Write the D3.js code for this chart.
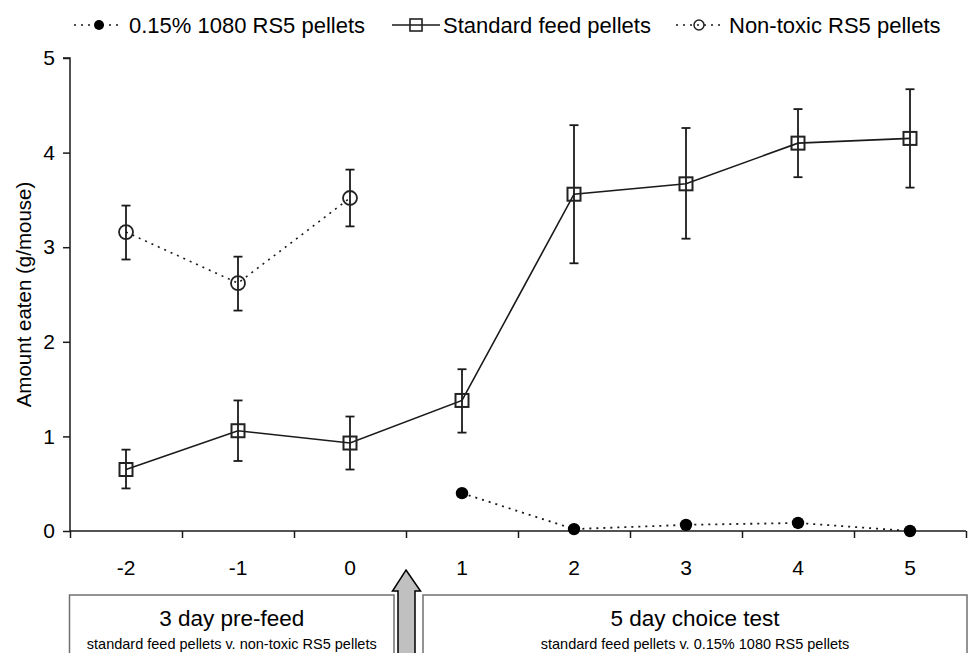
<!DOCTYPE html>
<html>
<head>
<meta charset="utf-8">
<script src="https://cdn.jsdelivr.net/npm/d3@7"></script>
<style>
  html, body { margin: 0; padding: 0; background: #fff; }
  svg { display: block; font-family: "Liberation Sans", Arial, sans-serif; }
</style>
</head>
<body>
<svg id="chart" width="970" height="653"></svg>
<script>
// ---------- data ----------
const days = [-2, -1, 0, 1, 2, 3, 4, 5];
const standardMean = [0.65, 1.06, 0.93, 1.38, 3.56, 3.67, 4.10, 4.15];
const standardHi   = [0.86, 1.38, 1.21, 1.71, 4.29, 4.26, 4.46, 4.67];
const standardLo   = [0.45, 0.74, 0.65, 1.04, 2.83, 3.09, 3.74, 3.63];

const nontoxicDays = [-2, -1, 0];
const nontoxicMean = [3.16, 2.62, 3.52];
const nontoxicHi   = [3.44, 2.90, 3.82];
const nontoxicLo   = [2.87, 2.33, 3.22];

const toxicDays = [1, 2, 3, 4, 5];
const toxicMean = [0.40, 0.02, 0.065, 0.085, 0.0];

const yTicks = [0, 1, 2, 3, 4, 5];
const xTickLabels = [-2, -1, 0, 1, 2, 3, 4, 5];
const xTickMarks = [-2.5, -1.5, -0.5, 0.5, 1.5, 2.5, 3.5, 4.5, 5.5];

const legendLabels = ["0.15% 1080 RS5 pellets", "Standard feed pellets", "Non-toxic RS5 pellets"];
const yTitle = "Amount eaten (g/mouse)";
const phaseTitles = ["3 day pre-feed", "5 day choice test"];
const phaseSubs = ["standard feed pellets v. non-toxic RS5 pellets", "standard feed pellets v. 0.15% 1080 RS5 pellets"];

// ---------- scales ----------
const svg = d3.select("#chart");
const x = d3.scaleLinear().domain([-2.5, 5.5]).range([70, 966]);
const y = d3.scaleLinear().domain([0, 5]).range([531, 58]);
const ink = "#1a1a1a";

// ---------- axes ----------
const yAxis = d3.axisLeft(y).tickValues(yTicks).tickSize(7).tickPadding(8).tickFormat(d3.format("d"));
const gy = svg.append("g").attr("transform", `translate(${x(-2.5)},0)`).call(yAxis);
gy.select(".domain").attr("d", `M-7,${y(5)}H0V${y(0)}`).attr("stroke", ink).attr("stroke-width", 1.5);
gy.selectAll(".tick line").attr("stroke", ink).attr("stroke-width", 1.5);
gy.selectAll(".tick text").attr("font-size", 21).attr("fill", "#000")
  .attr("font-family", "Liberation Sans, Arial, sans-serif");

const xAxisMarks = d3.axisBottom(x).tickValues(xTickMarks).tickSize(7).tickFormat("");
const gx = svg.append("g").attr("transform", `translate(0,${y(0)})`).call(xAxisMarks);
gx.select(".domain").attr("d", `M${x(-2.5)},0H${x(5.5)}`).attr("stroke", ink).attr("stroke-width", 1.5);
gx.selectAll(".tick line").attr("stroke", ink).attr("stroke-width", 1.5);

svg.append("g").selectAll("text").data(xTickLabels).join("text")
  .attr("x", d => x(d)).attr("y", y(0) + 44)
  .attr("text-anchor", "middle").attr("font-size", 21).attr("fill", "#000")
  .text(d => d);

svg.append("text")
  .attr("transform", `translate(31,${(y(0) + y(5)) / 2}) rotate(-90)`)
  .attr("text-anchor", "middle").attr("font-size", 20.5).attr("fill", "#000")
  .text(yTitle);

// ---------- error bars ----------
function errorBars(xs, lo, hi) {
  const g = svg.append("g").attr("stroke", ink).attr("stroke-width", 1.8).attr("fill", "none");
  xs.forEach((d, i) => {
    g.append("line").attr("x1", x(d)).attr("x2", x(d)).attr("y1", y(lo[i])).attr("y2", y(hi[i]));
    g.append("line").attr("x1", x(d) - 4.5).attr("x2", x(d) + 4.5).attr("y1", y(lo[i])).attr("y2", y(lo[i]));
    g.append("line").attr("x1", x(d) - 4.5).attr("x2", x(d) + 4.5).attr("y1", y(hi[i])).attr("y2", y(hi[i]));
  });
}
errorBars(days, standardLo, standardHi);
errorBars(nontoxicDays, nontoxicLo, nontoxicHi);

// ---------- lines ----------
const line = d3.line().x(d => x(d[0])).y(d => y(d[1]));
svg.append("path").datum(days.map((d, i) => [d, standardMean[i]]))
  .attr("d", line).attr("fill", "none").attr("stroke", ink).attr("stroke-width", 1.6);
svg.append("path").datum(nontoxicDays.map((d, i) => [d, nontoxicMean[i]]))
  .attr("d", line).attr("fill", "none").attr("stroke", ink).attr("stroke-width", 1.6)
  .attr("stroke-dasharray", "2,5");
svg.append("path").datum(toxicDays.map((d, i) => [d, toxicMean[i]]))
  .attr("d", line).attr("fill", "none").attr("stroke", ink).attr("stroke-width", 1.8)
  .attr("stroke-dasharray", "2,5");

// ---------- markers ----------
const sq = 13;
svg.append("g").selectAll("rect").data(days).join("rect")
  .attr("x", (d) => x(d) - sq / 2).attr("y", (d, i) => y(standardMean[i]) - sq / 2)
  .attr("width", sq).attr("height", sq)
  .attr("fill", "none").attr("stroke", "#222").attr("stroke-width", 2);
svg.append("g").selectAll("circle").data(nontoxicDays).join("circle")
  .attr("cx", d => x(d)).attr("cy", (d, i) => y(nontoxicMean[i])).attr("r", 7)
  .attr("fill", "none").attr("stroke", "#222").attr("stroke-width", 1.8);
svg.append("g").selectAll("circle").data(toxicDays).join("circle")
  .attr("cx", d => x(d)).attr("cy", (d, i) => y(toxicMean[i])).attr("r", 6.2)
  .attr("fill", "#000");

// ---------- legend ----------
const legY = 25;
const leg = svg.append("g");
// item 1
leg.append("line").attr("x1", 74).attr("x2", 120).attr("y1", legY).attr("y2", legY)
  .attr("stroke", ink).attr("stroke-width", 1.6).attr("stroke-dasharray", "2,5");
leg.append("circle").attr("cx", 99).attr("cy", legY).attr("r", 5).attr("fill", "#000");
leg.append("text").attr("x", 129).attr("y", legY + 8).attr("font-size", 22).attr("fill", "#000").text(legendLabels[0]);
// item 2
leg.append("line").attr("x1", 392).attr("x2", 440).attr("y1", legY).attr("y2", legY)
  .attr("stroke", ink).attr("stroke-width", 1.6);
leg.append("rect").attr("x", 410).attr("y", legY - 6).attr("width", 12).attr("height", 12)
  .attr("fill", "none").attr("stroke", "#222").attr("stroke-width", 1.6);
leg.append("text").attr("x", 443).attr("y", legY + 8).attr("font-size", 22).attr("fill", "#000").text(legendLabels[1]);
// item 3
leg.append("line").attr("x1", 676).attr("x2", 722).attr("y1", legY).attr("y2", legY)
  .attr("stroke", ink).attr("stroke-width", 1.6).attr("stroke-dasharray", "2,5");
leg.append("circle").attr("cx", 699).attr("cy", legY).attr("r", 5)
  .attr("fill", "none").attr("stroke", "#222").attr("stroke-width", 1.5);
leg.append("text").attr("x", 729).attr("y", legY + 8).attr("font-size", 22).attr("fill", "#000").text(legendLabels[2]);

// ---------- phase boxes ----------
const boxTop = 595;
const boxes = [
  { x0: x(-2.5) - 0.5, x1: x(0.5) - 12 },
  { x0: x(0.5) + 17, x1: x(5.5) + 1 }
];
boxes.forEach((b, i) => {
  svg.append("rect").attr("x", b.x0).attr("y", boxTop).attr("width", b.x1 - b.x0).attr("height", 80)
    .attr("fill", "#fff").attr("stroke", "#707070").attr("stroke-width", 1.5);
  const cx = (b.x0 + b.x1) / 2;
  svg.append("text").attr("x", cx).attr("y", 626).attr("text-anchor", "middle")
    .attr("font-size", 22.5).attr("fill", "#000").text(phaseTitles[i]);
  svg.append("text").attr("x", cx).attr("y", 649).attr("text-anchor", "middle")
    .attr("font-size", 14.5).attr("fill", "#000").text(phaseSubs[i]);
});

// ---------- arrow ----------
const ax = x(0.5);
const arrowPts = [
  [ax, 570], [ax + 14.5, 591], [ax + 9, 591], [ax + 9, 670],
  [ax - 8, 670], [ax - 8, 591], [ax - 13.5, 591]
];
svg.append("polygon").attr("points", arrowPts.map(p => p.join(",")).join(" "))
  .attr("fill", "#c0c0c0").attr("stroke", "#000").attr("stroke-width", 1.5);
</script>
</body>
</html>
